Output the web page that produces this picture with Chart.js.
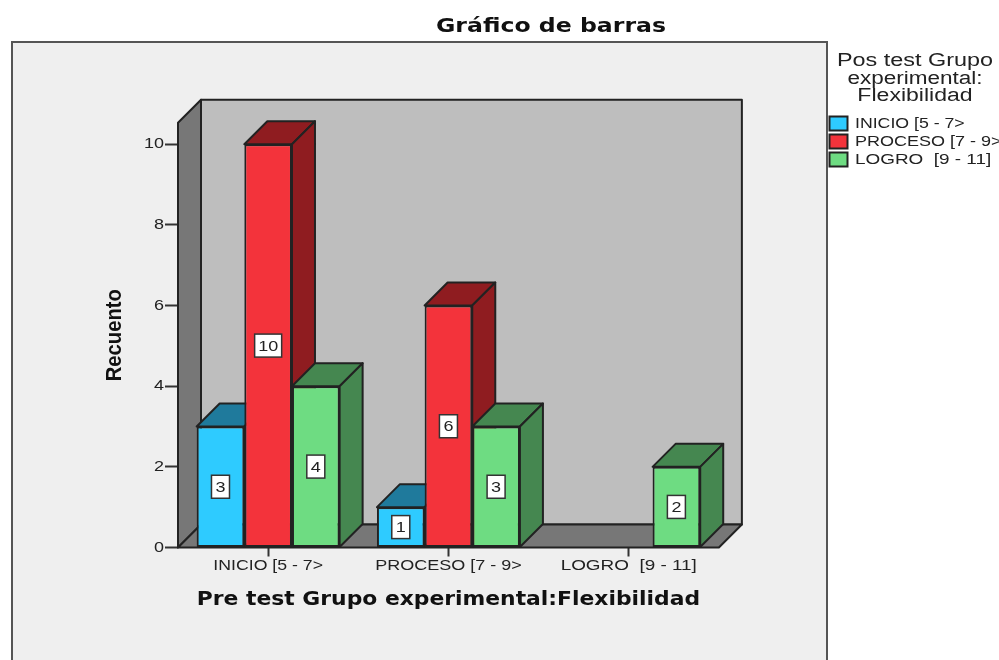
<!DOCTYPE html>
<html>
<head>
<meta charset="utf-8">
<title>Gráfico de barras</title>
<script src="https://cdn.jsdelivr.net/npm/chart.js@4"></script>
<style>
    html, body { margin: 0; padding: 0; background: #fff; overflow: hidden; }
    canvas { display: block; }
</style>
</head>
<body>
<canvas id="chart" width="999" height="660"></canvas>
<script>
const categories = ['INICIO [5 - 7>', 'PROCESO [7 - 9>', 'LOGRO  [9 - 11]'];
const legendTitle = ['Pos test Grupo', 'experimental:', 'Flexibilidad'];
const inicioLabel = 'INICIO [5 - 7>';
const procesoLabel = 'PROCESO [7 - 9>';
const logroLabel = 'LOGRO  [9 - 11]';
const inicioValues = [3, 1, null];
const procesoValues = [10, 6, null];
const logroValues = [4, 3, 2];
const chartTitle = 'Gráfico de barras';
const xTitle = 'Pre test Grupo experimental:Flexibilidad';
const yTitle = 'Recuento';

// profundidad del efecto 3D
const depthX = 23;
const depthY = 23;
const lineColor = '#222222';
const sideColors = ['#1f7a9c', '#8f1c20', '#458750'];

// el original esta estirado a lo ancho, cada texto se escala en horizontal
const textStretch = {
    [chartTitle]: 1.18,
    [xTitle]: 1.15,
    [yTitle]: 0.92,
    [categories[0]]: 1.18,
    [categories[1]]: 1.2,
    [categories[2]]: 1.26,
    [legendTitle[0]]: 1.3,
    [legendTitle[1]]: 1.25,
    [legendTitle[2]]: 1.28
};

const canvas = document.getElementById('chart');
const context = canvas.getContext('2d');
const plainFillText = context.fillText.bind(context);
context.fillText = function(text, x, y) {
    const stretch = textStretch[text] || (/^\d+$/.test(text) ? 1.2 : 1);
    context.save();
    context.translate(x, y);
    context.scale(stretch, 1);
    plainFillText(text, 0, 0);
    context.restore();
};

function poly(ctx, points, fill) {
    ctx.beginPath();
    ctx.moveTo(points[0][0], points[0][1]);
    for (let i = 1; i < points.length; i++) {
        ctx.lineTo(points[i][0], points[i][1]);
    }
    ctx.closePath();
    ctx.fillStyle = fill;
    ctx.fill();
    ctx.lineWidth = 2;
    ctx.strokeStyle = lineColor;
    ctx.lineJoin = 'round';
    ctx.stroke();
}

function drawBarFaces(chart, index) {
    const ctx = chart.ctx;
    const values = chart.data.datasets[index].data;
    chart.getDatasetMeta(index).data.forEach((bar, i) => {
        if (values[i] === null) return;
        const left = bar.x - bar.width / 2;
        const right = bar.x + bar.width / 2;
        poly(ctx, [[left, bar.y], [left + depthX, bar.y - depthY],
            [right + depthX, bar.y - depthY], [right, bar.y]], sideColors[index]);
        poly(ctx, [[right, bar.y], [right + depthX, bar.y - depthY],
            [right + depthX, bar.base - depthY], [right, bar.base]], sideColors[index]);
    });
}

const box3d = {
    id: 'box3d',
    beforeDraw(chart) {
        const ctx = chart.ctx;
        ctx.save();
        ctx.fillStyle = '#ffffff';
        ctx.fillRect(0, 0, chart.width, chart.height);
        // marco exterior
        ctx.fillStyle = '#efefef';
        ctx.fillRect(12, 42, 815, 630);
        ctx.strokeStyle = '#555555';
        ctx.lineWidth = 2;
        ctx.strokeRect(12, 42, 815, 630);
        ctx.restore();
    },
    beforeDatasetsDraw(chart) {
        const ctx = chart.ctx;
        const a = chart.chartArea;
        ctx.save();
        // pared de fondo, pared izquierda y piso
        poly(ctx, [[a.left + depthX, a.top - depthY], [a.right + depthX, a.top - depthY],
            [a.right + depthX, a.bottom - depthY], [a.left + depthX, a.bottom - depthY]], '#bebebe');
        poly(ctx, [[a.left, a.bottom], [a.left, a.top], [a.left + depthX, a.top - depthY],
            [a.left + depthX, a.bottom - depthY]], '#777777');
        poly(ctx, [[a.left, a.bottom], [a.left + depthX, a.bottom - depthY],
            [a.right + depthX, a.bottom - depthY], [a.right, a.bottom]], '#777777');
        // de izquierda a derecha, cada barra tapa el lateral de la anterior
        chart.data.datasets.forEach((dataset, d) => {
            drawBarFaces(chart, d);
            chart.getDatasetMeta(d).controller.draw();
        });
        ctx.restore();
    },
    beforeDatasetDraw() {
        return false; // ya dibujadas arriba
    },
    afterDatasetsDraw(chart) {
        const ctx = chart.ctx;
        ctx.save();
        ctx.font = '15px "Liberation Sans"';
        ctx.textAlign = 'center';
        ctx.textBaseline = 'middle';
        chart.data.datasets.forEach((dataset, d) => {
            chart.getDatasetMeta(d).data.forEach((bar, i) => {
                const value = dataset.data[i];
                if (value === null) return;
                const cy = (bar.y + bar.base) / 2;
                const w = value >= 10 ? 27 : 18;
                ctx.fillStyle = '#ffffff';
                ctx.fillRect(bar.x - w / 2, cy - 11.5, w, 23);
                ctx.strokeStyle = '#333333';
                ctx.lineWidth = 1.5;
                ctx.strokeRect(bar.x - w / 2, cy - 11.5, w, 23);
                ctx.fillStyle = '#222222';
                ctx.fillText(String(value), bar.x, cy + 1);
            });
        });
        ctx.restore();
    },
    afterLayout(chart) {
        // colocar titulo y leyenda como en el original
        chart.titleBlock.left = 275;
        chart.titleBlock.right = 827;
        chart.legend.left = 826.5;
        chart.legend.right = 999;
        chart.legend.width = 177;
        chart.legend.top = 52.5;
        chart.legend.bottom = 200;
    }
};

new Chart(canvas, {
    type: 'bar',
    data: {
        labels: categories,
        datasets: [
            { label: inicioLabel, data: inicioValues, backgroundColor: '#2ecbff' },
            { label: procesoLabel, data: procesoValues, backgroundColor: '#f3333b' },
            { label: logroLabel, data: logroValues, backgroundColor: '#6edc82' }
        ]
    },
    plugins: [box3d],
    options: {
        responsive: false,
        animation: false,
        layout: { padding: { left: 100, right: 119.5, top: 0, bottom: 48.2 } },
        datasets: {
            bar: {
                categoryPercentage: 0.793,
                barPercentage: 1,
                borderColor: lineColor,
                borderWidth: 2,
                borderSkipped: false
            }
        },
        scales: {
            x: {
                afterFit(scale) { scale.height = 64.3; },
                grid: { offset: false, drawOnChartArea: false, tickLength: 9, tickWidth: 2, tickColor: '#333333' },
                border: { display: false },
                ticks: { color: '#222222', font: { family: '"Liberation Sans"', size: 15 }, padding: 0, maxRotation: 0 },
                title: {
                    display: true,
                    text: xTitle,
                    color: '#111111',
                    font: { family: '"DejaVu Sans"', size: 19, weight: 'bold' },
                    padding: 0
                }
            },
            y: {
                min: 0,
                max: 10.53,
                afterFit(scale) { scale.width = 78; },
                grid: { drawOnChartArea: false, tickLength: 13, tickWidth: 2, tickColor: '#333333' },
                border: { display: false },
                ticks: { stepSize: 2, includeBounds: false, color: '#222222', font: { family: '"Liberation Sans"', size: 15 }, padding: 1 },
                title: {
                    display: true,
                    text: yTitle,
                    color: '#111111',
                    font: { family: '"Liberation Sans"', size: 22, weight: 'bold' },
                    padding: { top: 2, bottom: 0 }
                }
            }
        },
        plugins: {
            tooltip: { enabled: false },
            title: {
                display: true,
                text: chartTitle,
                color: '#111111',
                font: { family: '"DejaVu Sans"', size: 20, weight: 'bold', lineHeight: 1.2 },
                padding: { top: 15, bottom: 83.8 }
            },
            legend: {
                position: 'right',
                align: 'start',
                title: {
                    display: true,
                    text: legendTitle,
                    color: '#222222',
                    font: { family: '"Liberation Sans"', size: 18, lineHeight: 0.97 },
                    padding: { top: 0, bottom: 43 }
                },
                labels: {
                    boxWidth: 18,
                    boxHeight: 14,
                    padding: 3,
                    color: '#222222',
                    font: { family: '"Liberation Sans"', size: 15 }
                }
            }
        }
    }
});
</script>
</body>
</html>
